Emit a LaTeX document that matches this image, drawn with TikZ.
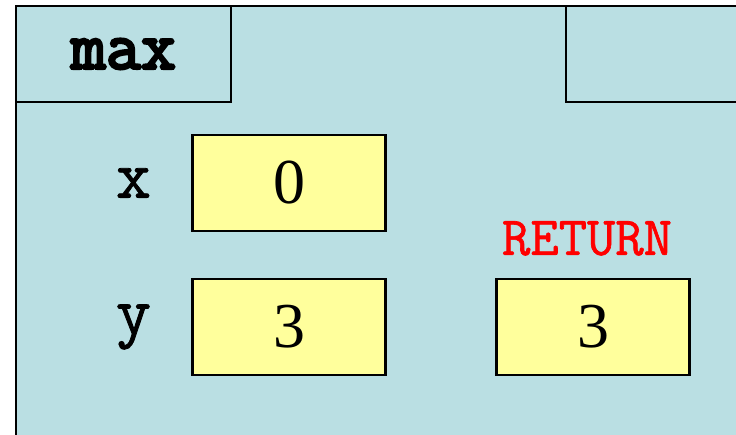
\documentclass[tikz,border=0pt]{standalone}
\usepackage{fontspec}
\newfontfamily\numfont{Liberation Serif}
\newfontfamily\heavytt{Latin Modern Mono}[FakeBold=4]
\newfontfamily\medtt{Latin Modern Mono}[FakeBold=1.2]
\usetikzlibrary{positioning}

\definecolor{framecol}{HTML}{BADFE3}
\definecolor{cellcol}{HTML}{FFFF9C}

\tikzset{
  cell/.style={draw,line width=2.6pt,fill=cellcol,minimum width=193pt,minimum height=96pt,
    font=\numfont\fontsize{64}{64}\selectfont},
  tab/.style={draw,line width=2.8pt,fill=framecol,inner sep=0pt},
  varname/.style={inner sep=0pt,font=\medtt\fontsize{68}{68}\selectfont}
}

\begin{document}
\begin{tikzpicture}[x=1pt,y=-1pt]
  \useasboundingbox (0,0) rectangle (736,435);
  \clip (0,0) rectangle (736,435);
  % call frame
  \fill[framecol] (16,6) rectangle (760,460);
  \draw[line width=2.8pt] (16,460) -- (16,6) -- (760,6);

  \node[tab,minimum width=215pt,minimum height=96pt,
    font=\heavytt\fontsize{68}{68}\selectfont] (fname) at (123.5,54) {max};
  \node[tab,minimum width=190pt,minimum height=96pt] (pc) at (661,54) {};

  \node[cell] (xbox) at (289,183) {0};
  \node[cell] (ybox) at (289,327) {3};
  \node[cell] (retbox) at (593,327) {3};

  \node[varname,left=40pt of xbox] (xname) {x};
  \node[varname,left=40pt of ybox] (yname) {y};
  \node[inner sep=0pt,text=red,font=\medtt\fontsize{55}{55}\selectfont,
    above=22pt of retbox,xshift=-6pt] (retname) {RETURN};
\end{tikzpicture}
\end{document}
